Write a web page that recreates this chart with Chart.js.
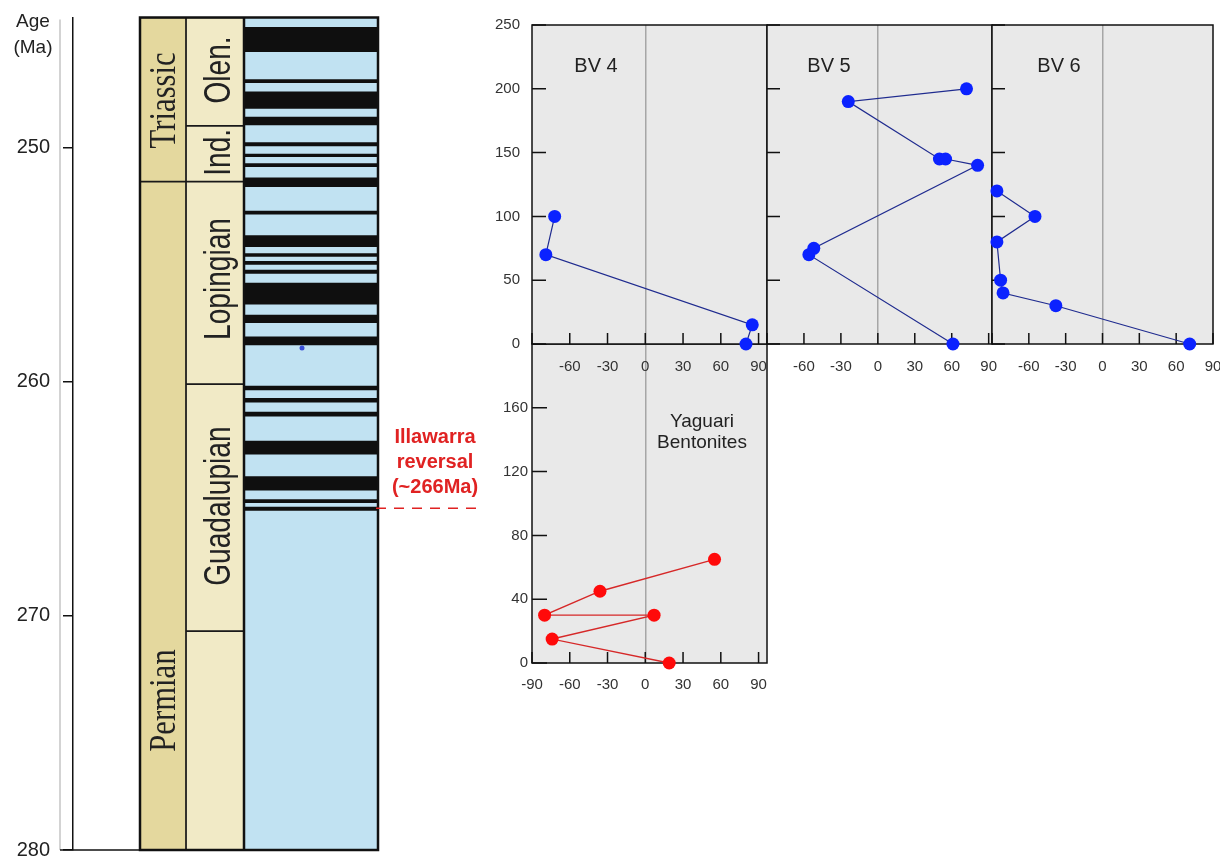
<!DOCTYPE html>
<html lang="en">
<head>
<meta charset="UTF-8">
<title>Illawarra reversal - BV sections</title>
<script src="https://cdn.jsdelivr.net/npm/chart.js"></script>
<style>
    body { margin: 0; background: #fff; font-family: "Liberation Sans", Arial, sans-serif; }
    #stage { position: relative; width: 1220px; height: 856px; overflow: hidden; }
    canvas { position: absolute; }
    .lbl { position: absolute; text-align: center; white-space: nowrap; z-index: 5; color: #222; }
</style>
</head>
<body>
<div id="stage">
    <canvas id="column" width="480" height="856" style="left:0;top:0"></canvas>
    <canvas id="yag" width="310" height="370" style="left:470px;top:330px;z-index:1"></canvas>
    <canvas id="bv4" width="310" height="390" style="left:470px;top:0;z-index:2"></canvas>
    <canvas id="bv5" width="240" height="390" style="left:760px;top:0;z-index:3"></canvas>
    <canvas id="bv6" width="235" height="390" style="left:985px;top:0;z-index:3"></canvas>

    <div class="lbl" style="left:0;top:8px;width:66px;font-size:19px;line-height:26px">Age<br>(Ma)</div>
    <div class="lbl" style="left:385px;top:424px;width:100px;font-size:20px;line-height:25px;font-weight:bold;color:#e02222">Illawarra<br>reversal<br>(~266Ma)</div>
    <div class="lbl" style="left:556px;top:55px;width:80px;font-size:20px;line-height:20px">BV 4</div>
    <div class="lbl" style="left:789px;top:55px;width:80px;font-size:20px;line-height:20px">BV 5</div>
    <div class="lbl" style="left:1019px;top:55px;width:80px;font-size:20px;line-height:20px">BV 6</div>
    <div class="lbl" style="left:642px;top:410px;width:120px;font-size:19px;line-height:21px">Yaguari<br>Bentonites</div>
</div>

<script>
// ---- time scale column (ages in Ma) ----
const ageTicks = [250, 260, 270, 280];
const columnTop = 244.44;
const columnBase = 280;
const periods = ['Triassic', 'Permian'];
const periodBounds = [244.44, 251.45, 280];
const epochs = ['Olen.', 'Ind.', 'Lopingian', 'Guadalupian', ''];
const epochBounds = [244.44, 249.07, 251.45, 260.10, 270.65, 280];
// reversed polarity intervals (black): young edge / old edge
const revYoung = [244.86, 247.09, 247.62, 248.69, 249.78, 250.27, 250.68, 251.29, 252.71, 253.75, 254.52, 254.86,
                  255.23, 255.78, 257.15, 258.08, 260.18, 260.71, 261.29, 262.53, 264.05, 265.03, 265.35];
const revOld   = [245.90, 247.22, 248.32, 249.03, 249.93, 250.38, 250.81, 251.67, 252.84, 254.23, 254.65, 254.99,
                  255.37, 256.68, 257.48, 258.43, 260.35, 260.87, 261.47, 263.09, 264.63, 265.16, 265.50];
const illawarraAge = 265.4;
const strayDotAge = 258.56;

// ---- inclination (deg) vs height in section ----
const incTicks = [-90, -60, -30, 0, 30, 60, 90];
const bvHeightTicks = [0, 50, 100, 150, 200, 250];
const yagHeightTicks = [0, 40, 80, 120, 160, 200];

const bv4Inc = [-72, -79, 85, 80];
const bv4Height = [100, 70, 15, 0];
const bv5Inc = [72, -24, 50, 55, 81, -52, -56, 61];
const bv5Height = [200, 190, 145, 145, 140, 75, 70, 0];
const bv6Inc = [-86, -55, -86, -83, -81, -38, 71];
const bv6Height = [120, 100, 80, 50, 40, 30, 0];
const yagInc = [55, -36, -80, 7, -74, 19];
const yagHeight = [65, 45, 30, 30, 15, 0];

// label placement along the column (ages of the label centres)
const periodLabelAge = [247.98, 273.62];
const epochLabelAge = [246.68, 250.2, 255.61, 265.31, null];

// x extents of the three strips inside the column chart (px units)
const COL = { period: [67, 113], epoch: [113, 171], polarity: [171, 305] };
const mid = r => (r[0] + r[1]) / 2;
const span = r => r[1] - r[0];

// stop tick labels from widening the layout padding
const noPad = s => { s.paddingLeft = 0; s.paddingRight = 0; s.paddingTop = 0; s.paddingBottom = 0; };

const columnDecor = {
    id: 'columnDecor',
    afterDatasetsDraw(chart) {
        const { ctx, chartArea: a, scales: { x, y } } = chart;
        const left = x.getPixelForValue(COL.period[0]);
        const split = x.getPixelForValue(COL.polarity[0]);
        const right = x.getPixelForValue(COL.polarity[1]);
        ctx.save();
        ctx.strokeStyle = '#c4c4c4';
        ctx.lineWidth = 1.5;
        ctx.beginPath(); ctx.moveTo(a.left - 13, a.top + 2); ctx.lineTo(a.left - 13, a.bottom); ctx.stroke();
        ctx.strokeStyle = '#111';
        ctx.beginPath(); ctx.moveTo(a.left - 13, a.bottom); ctx.lineTo(left, a.bottom); ctx.stroke();

        ctx.lineWidth = 2.5;
        ctx.strokeRect(left, a.top, right - left, a.bottom - a.top);
        ctx.beginPath(); ctx.moveTo(split, a.top); ctx.lineTo(split, a.bottom); ctx.stroke();

        // rotated names
        const vtext = (txt, baseX, age, font, sx) => {
            ctx.save();
            ctx.translate(baseX, y.getPixelForValue(age));
            ctx.rotate(-Math.PI / 2);
            ctx.scale(sx, 1);
            ctx.font = font;
            ctx.fillStyle = '#222';
            ctx.textAlign = 'center';
            ctx.textBaseline = 'alphabetic';
            ctx.fillText(txt, 0, 0);
            ctx.restore();
        };
        periods.forEach((p, i) => vtext(p, x.getPixelForValue(mid(COL.period)) + 12, periodLabelAge[i], '37px "Liberation Serif"', 0.83));
        epochs.forEach((e, i) => { if (e) vtext(e, x.getPixelForValue(mid(COL.epoch)) + 15, epochLabelAge[i], '37px "Liberation Sans"', 0.76); });

        // Illawarra marker
        const yy = y.getPixelForValue(illawarraAge);
        ctx.strokeStyle = '#e02222';
        ctx.lineWidth = 1.5;
        ctx.setLineDash([10, 8]);
        ctx.beginPath(); ctx.moveTo(right - 2, yy); ctx.lineTo(right + 100, yy); ctx.stroke();
        ctx.restore();
    }
};

new Chart(document.getElementById('column'), {
    type: 'bar',
    data: {
        datasets: [
            {
                label: 'reversed',
                data: revYoung.map((t, i) => ({ x: mid(COL.polarity), y: [t, revOld[i]] })),
                backgroundColor: '#0f0f0f', borderWidth: 0,
                barThickness: span(COL.polarity), grouped: false, order: 0
            },
            {
                label: 'normal',
                data: [{ x: mid(COL.polarity), y: [columnTop, columnBase] }],
                backgroundColor: '#c1e2f2', borderWidth: 0,
                barThickness: span(COL.polarity), grouped: false, order: 1
            },
            {
                label: 'period',
                data: periods.map((p, i) => ({ x: mid(COL.period), y: [periodBounds[i], periodBounds[i + 1]] })),
                backgroundColor: '#e4d89e', borderColor: '#1a1a1a', borderWidth: 1.2, borderSkipped: false,
                barThickness: span(COL.period), grouped: false, order: 1
            },
            {
                label: 'epoch',
                data: epochs.map((e, i) => ({ x: mid(COL.epoch), y: [epochBounds[i], epochBounds[i + 1]] })),
                backgroundColor: '#f1eac6', borderColor: '#1a1a1a', borderWidth: 1.2, borderSkipped: false,
                barThickness: span(COL.epoch), grouped: false, order: 1
            },
            {
                type: 'scatter',
                data: [{ x: 229, y: strayDotAge }],
                pointRadius: 2.5, backgroundColor: '#3b50d8', borderWidth: 0, order: -1
            }
        ]
    },
    options: {
        responsive: false, animation: false, events: [],
        layout: { padding: { left: 0, right: 102, top: 17.5, bottom: 6 }, autoPadding: false },
        plugins: { legend: { display: false }, tooltip: { enabled: false } },
        scales: {
            x: { type: 'linear', min: 0, max: 305, offset: false, display: false },
            y: {
                type: 'linear', reverse: true, min: columnTop, max: columnBase,
                afterBuildTicks: s => { s.ticks = ageTicks.map(v => ({ value: v })); },
                afterFit: s => { s.width = 73; noPad(s); },
                grid: { drawOnChartArea: false, drawTicks: true, tickLength: 10, color: '#111', lineWidth: 1.5 },
                border: { display: true, color: '#111', width: 1.5 },
                ticks: { padding: 13, color: '#222', font: { family: 'Liberation Sans', size: 20 } }
            }
        }
    },
    plugins: [columnDecor]
});

// ---- inclination panels ----
const panelPlugin = {
    id: 'panel',
    beforeDraw(chart) {
        const { ctx, chartArea: a } = chart;
        ctx.save();
        ctx.fillStyle = '#e9e9e9';
        ctx.fillRect(a.left, a.top, a.width, a.height);
        ctx.restore();
    },
    beforeDatasetsDraw(chart, args, opts) {
        const { ctx, chartArea: a, scales: { x, y } } = chart;
        ctx.save();
        ctx.strokeStyle = '#111';
        ctx.lineWidth = 1.5;
        ctx.beginPath();
        opts.xTicks.forEach(v => {
            const px = x.getPixelForValue(v);
            ctx.moveTo(px, a.bottom); ctx.lineTo(px, a.bottom - opts.xTick);
        });
        opts.yTicks.forEach(v => {
            const py = y.getPixelForValue(v);
            ctx.moveTo(a.left, py); ctx.lineTo(a.left + opts.yTick, py);
        });
        ctx.stroke();
        ctx.strokeRect(a.left, a.top, a.width, a.height);
        ctx.restore();
    }
};

const tickFont = { family: 'Liberation Sans', size: 15 };

function panel(id, inc, height, o) {
    return new Chart(document.getElementById(id), {
        type: 'scatter',
        data: {
            datasets: [{
                data: inc.map((v, i) => ({ x: v, y: height[i] })),
                showLine: true, borderColor: o.line, borderWidth: o.lineWidth,
                pointRadius: 6.5, pointHoverRadius: 6.5, pointBackgroundColor: o.dot, pointBorderWidth: 0,
                clip: false
            }]
        },
        options: {
            responsive: false, animation: false, events: [],
            layout: { padding: o.padding, autoPadding: false },
            plugins: {
                legend: { display: false }, tooltip: { enabled: false },
                panel: { xTicks: incTicks, yTicks: o.yTicks, xTick: 11, yTick: o.yTick }
            },
            scales: {
                x: {
                    type: 'linear', min: -90, max: o.xMax,
                    afterBuildTicks: s => { s.ticks = incTicks.map(v => ({ value: v })); },
                    afterFit: s => { s.height = o.xAxisHeight; noPad(s); },
                    grid: { drawTicks: false, lineWidth: 1.5, color: c => (c.tick && c.tick.value === 0) ? '#a6a6a6' : 'rgba(0,0,0,0)' },
                    border: { display: false },
                    ticks: { padding: o.xPad, autoSkip: false, maxRotation: 0, color: '#333', font: tickFont,
                             callback: v => o.hideX.includes(v) ? '' : String(v) }
                },
                y: {
                    type: 'linear', min: 0, max: o.yMax, display: o.showY,
                    afterBuildTicks: s => { s.ticks = o.yTicks.map(v => ({ value: v })); },
                    afterFit: s => { if (o.showY) s.width = o.yAxisWidth; noPad(s); },
                    grid: { display: false, drawTicks: false },
                    border: { display: false },
                    ticks: { padding: o.yPad, color: '#333', font: tickFont,
                             callback: v => o.hideY.includes(v) ? '' : String(v) }
                }
            }
        },
        plugins: [panelPlugin]
    });
}

const blueLine = '#1f2b8f', blueDot = '#0b22ff';

panel('bv4', bv4Inc, bv4Height, {
    line: blueLine, dot: blueDot, lineWidth: 1.2,
    padding: { left: 0, right: 13, top: 25, bottom: 0 },
    xMax: 96.7, yMax: 250, yTicks: bvHeightTicks, hideX: [-90], hideY: [],
    showY: true, yAxisWidth: 62, xAxisHeight: 46, xPad: 14, yPad: 12, yTick: 14
});
panel('bv5', bv5Inc, bv5Height, {
    line: blueLine, dot: blueDot, lineWidth: 1.2,
    padding: { left: 7, right: 8, top: 25, bottom: 0 },
    xMax: 92.7, yMax: 250, yTicks: bvHeightTicks, hideX: [-90], hideY: [],
    showY: false, xAxisHeight: 46, xPad: 14, yPad: 12, yTick: 13
});
panel('bv6', bv6Inc, bv6Height, {
    line: blueLine, dot: blueDot, lineWidth: 1.2,
    padding: { left: 7, right: 7, top: 25, bottom: 0 },
    xMax: 90, yMax: 250, yTicks: bvHeightTicks, hideX: [-90], hideY: [],
    showY: false, xAxisHeight: 46, xPad: 14, yPad: 12, yTick: 13
});
panel('yag', yagInc, yagHeight, {
    line: '#d62828', dot: '#ff0a0a', lineWidth: 1.4,
    padding: { left: 0, right: 13, top: 14, bottom: 0 },
    xMax: 96.7, yMax: 200, yTicks: yagHeightTicks, hideX: [], hideY: [200],
    showY: true, yAxisWidth: 62, xAxisHeight: 37, xPad: 13, yPad: 4, yTick: 15
});
</script>
</body>
</html>
